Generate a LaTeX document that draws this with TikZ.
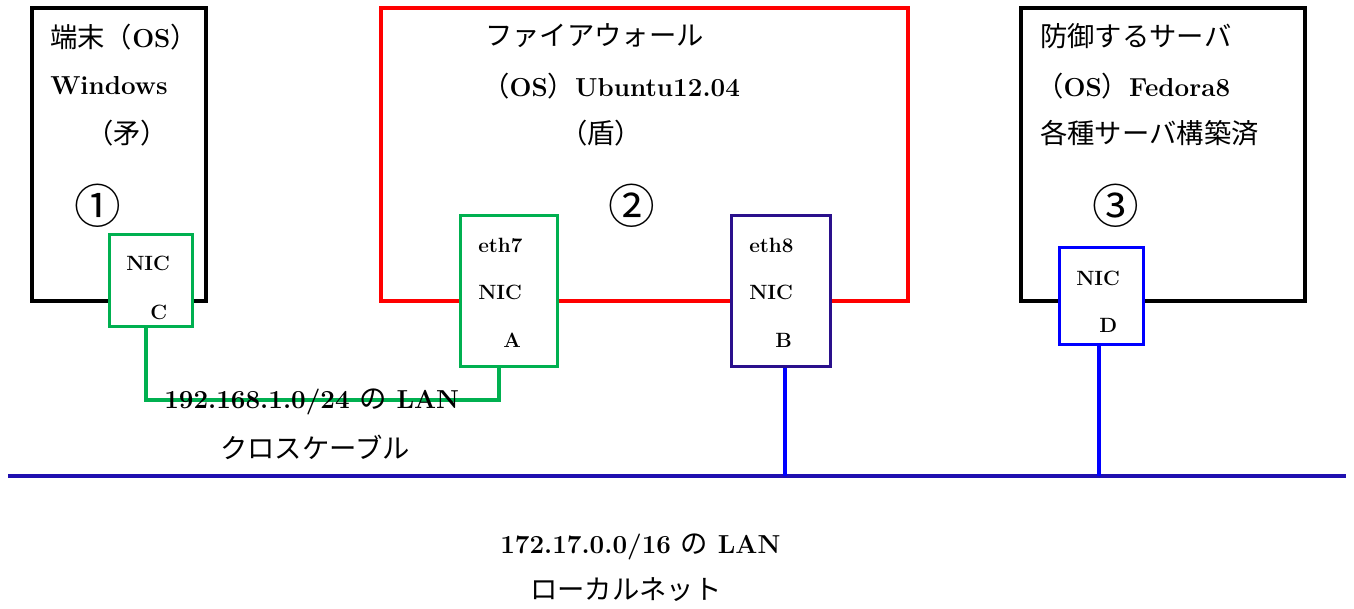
\documentclass[tikz,border=0pt]{standalone}
\usepackage{fontspec}
\newfontfamily\jpfam{Noto Sans CJK JP}
\newcommand{\jpt}{\jpfam\mdseries\fontsize{20.5}{24}\selectfont}
\definecolor{nicgreen}{RGB}{0,176,80}
\definecolor{fwred}{RGB}{255,0,0}
\definecolor{indigob}{RGB}{42,16,140}
\definecolor{pureblue}{RGB}{0,0,255}
\definecolor{lanblue}{RGB}{32,16,176}
\tikzset{
  hostbox/.style={draw=black, line width=2.5pt},
  fwbox/.style={draw=fwred, line width=2.5pt},
  nicbox/.style={fill=white, line width=2.5pt},
  big/.style={font=\bfseries\fontsize{19.5}{22}\selectfont, inner sep=0pt},
  small/.style={font=\bfseries\fontsize{15.5}{18}\selectfont, inner sep=0pt},
  num/.style={font=\jpfam\fontsize{35}{38}\selectfont, inner sep=0pt},
  wire/.style={line width=2.5pt},
}
\begin{document}
\begin{tikzpicture}[x=0.75pt,y=-0.75pt]
\useasboundingbox (0,0) rectangle (1354,608);
% host boxes
\draw[hostbox] (32,8) rectangle (206,301);
\draw[fwbox] (381,8) rectangle (908,301);
\draw[hostbox] (1021,8) rectangle (1305,301);
% NIC boxes
\node[nicbox, draw=nicgreen, minimum width=83*0.75pt, minimum height=92*0.75pt, anchor=north west] (nicC) at (108,233) {};
\node[nicbox, draw=nicgreen, minimum width=97*0.75pt, minimum height=151*0.75pt, anchor=north west] (nicA) at (459,214) {};
\node[nicbox, draw=indigob, minimum width=99*0.75pt, minimum height=151*0.75pt, anchor=north west] (nicB) at (730,214) {};
\node[nicbox, draw=pureblue, minimum width=84*0.75pt, minimum height=97*0.75pt, anchor=north west] (nicD) at (1058,246) {};
% LAN line
\coordinate (lanL) at (8,476);
\coordinate (lanR) at (1346,476);
\draw[wire, lanblue] (lanL) -- (lanR);
% connectors
\coordinate (cbend1) at (146,400);
\coordinate (cbend2) at (499,400);
\draw[wire, nicgreen] (nicC.south -| cbend1) -- (cbend1) -- (cbend2) -- (nicA.south -| cbend2);
\coordinate (tapB) at (785,476);
\coordinate (tapD) at (1099,476);
\draw[wire, pureblue] (nicB.south -| tapB) -- (tapB);
\draw[wire, pureblue] (nicD.south -| tapD) -- (tapD);
% texts host 1
\node[big, anchor=west] (t1a) at (50,37) {{\jpt 端末（}OS{\jpt ）}};
\node[big, anchor=west] (t1b) at (50,86) {Windows};
\node[big, anchor=west] (t1c) at (86,133) {{\jpt （矛）}};
\node[num] (n1) at (98,206) {①};
\node[small, anchor=west] (c1) at (126,263) {NIC};
\node[small, anchor=west] (c2) at (150,312) {C};
% firewall
\node[big, anchor=west] (t2a) at (485,36) {{\jpt ファイアウォール}};
\node[big, anchor=west] (t2b) at (482,86) {{\jpt （}OS{\jpt ）}Ubuntu12.04};
\node[big, anchor=west] (t2c) at (560,133) {{\jpt （盾）}};
\node[num] (n2) at (632,206) {②};
\node[small, anchor=west] (a1) at (478,245) {eth7};
\node[small, anchor=west] (a2) at (478,292) {NIC};
\node[small, anchor=west] (a3) at (503,340) {A};
\node[small, anchor=west] (b1) at (749,245) {eth8};
\node[small, anchor=west] (b2) at (749,292) {NIC};
\node[small, anchor=west] (b3) at (775,340) {B};
% server
\node[big, anchor=west] (t3a) at (1040,36) {{\jpt 防御するサーバ}};
\node[big, anchor=west] (t3b) at (1036,86) {{\jpt （}OS{\jpt ）}Fedora8};
\node[big, anchor=west] (t3c) at (1040,133) {{\jpt 各種サーバ構築済}};
\node[num] (n3) at (1116,206) {③};
\node[small, anchor=west] (d1) at (1076,278) {NIC};
\node[small, anchor=west] (d2) at (1099,325) {D};
% LAN labels
\node[big, anchor=west] (l1) at (164,402) {192.168.1.0/24 {\jpt の} LAN};
\node[big, anchor=west] (l2) at (220,447) {{\jpt クロスケーブル}};
\node[big, anchor=west] (l3) at (500,547) {172.17.0.0/16 {\jpt の} LAN};
\node[big, anchor=west] (l4) at (530,590) {{\jpt ローカルネット}};
\end{tikzpicture}
\end{document}
